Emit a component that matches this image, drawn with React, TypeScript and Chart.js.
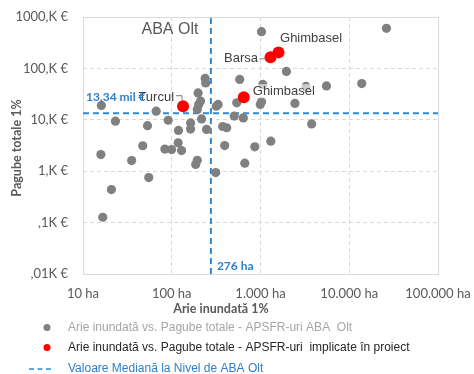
import React, { useEffect, useRef } from 'react';
import { Chart, registerables } from 'chart.js';

Chart.register(...registerables);

// ---- Data (area in ha, damage in thousand €) ----
const grayArea = [16.1, 23.2, 53.3, 66.8, 91.2, 119, 163, 163, 194, 211, 201, 198, 217, 238, 241, 247, 333, 318, 375, 416, 583, 540, 506, 640, 1026, 26240, 1959, 1062, 3250, 5540, 13840, 1026, 994, 2445, 3770, 863, 1307, 665, 395, 313, 186, 194, 129, 118, 99.6, 83.6, 55.1, 47.1, 35.3, 15.9, 20.9, 16.7];
const grayDamage = [19.0, 9.4, 7.7, 14.7, 9.8, 6.2, 8.7, 6.6, 15.9, 23.1, 19.9, 33.3, 10.4, 63.8, 52.1, 6.5, 19.9, 18.4, 7.4, 7.0, 61.1, 21.4, 11.8, 10.9, 519, 603, 87.5, 48.7, 44.6, 45.6, 50.6, 22.4, 19.9, 20.8, 8.3, 2.98, 3.83, 1.43, 3.15, 0.94, 1.35, 1.63, 2.52, 3.58, 2.64, 2.70, 0.75, 3.13, 1.61, 2.11, 0.44, 0.127];

const redArea = [134, 648, 1297, 1596];
const redDamage = [18.4, 27.6, 164, 205];
const redNames = ['Turcul', 'Ghimbasel', 'Barsa', 'Ghimbasel'];

const medianArea = 276;
const medianDamage = 13.34;
const medianAreaLabel = '276 ha';
const medianDamageLabel = '13,34 mil €';

const xTicks = [10, 100, 1000, 10000, 100000];
const xTickLabels = ['10 ha', '100 ha', '1.000 ha', '10.000 ha', '100.000 ha'];
const yTicks = [0.01, 0.1, 1, 10, 100, 1000];
const yTickLabels = [',01K €', ',1K €', '1,K €', '10,K €', '100,K €', '1000,K €'];

const chartTitle = 'ABA Olt';
const xTitle = 'Arie inundată 1%';
const yTitle = 'Pagube totale 1%';
const legendLabels = [
  'Arie inundată vs. Pagube totale - APSFR-uri ABA  Olt',
  'Arie inundată vs. Pagube totale - APSFR-uri  implicate în proiect',
  'Valoare Mediană la Nivel de ABA Olt',
];

const GRAY = '#808080';
const RED = '#ff0000';
const BLUE_LINE = '#2b8ad8';
const BLUE_TEXT = '#2e7fc8';
const AXIS_TEXT = '#595959';

const overlay = {
  id: 'overlay',
  beforeDatasetsDraw(chart: any) {
    const { ctx, chartArea: a } = chart;
    ctx.save();
    ctx.strokeStyle = '#d9d9d9';
    ctx.lineWidth = 1;
    ctx.strokeRect(Math.round(a.left) + 0.5, Math.round(a.top) + 0.5, Math.round(a.right - a.left), Math.round(a.bottom - a.top));
    ctx.restore();
  },
  afterDatasetsDraw(chart: any) {
    const { ctx, chartArea: a } = chart;
    const xs = chart.scales.x;
    const ys = chart.scales.y;
    ctx.save();

    // chart title inside the plot
    ctx.font = '16px "Liberation Sans", Arial, sans-serif';
    ctx.fillStyle = AXIS_TEXT;
    ctx.textBaseline = 'middle';
    ctx.textAlign = 'left';
    ctx.fillText(chartTitle, 141.5, 29.5);

    // red point labels
    const meta = chart.getDatasetMeta(0);
    ctx.font = '13px "Liberation Sans", Arial, sans-serif';
    ctx.textBaseline = 'middle';
    meta.data.forEach((el: any, i: number) => {
      const px = el.x, py = el.y;
      const name = redNames[i];
      ctx.fillStyle = '#404040';
      ctx.strokeStyle = '#7f7f7f';
      ctx.lineWidth = 1;
      if (i === 0) {
        ctx.textAlign = 'right';
        ctx.fillText(name, px - 9, py - 9);
        ctx.beginPath();
        ctx.moveTo(px - 7, py - 10.5);
        ctx.lineTo(px - 1, py - 10.5);
        ctx.lineTo(px - 1, py - 6);
        ctx.stroke();
      } else if (i === 1) {
        ctx.textAlign = 'left';
        const w = ctx.measureText(name).width;
        ctx.fillStyle = 'rgba(255,255,255,0.6)';
        ctx.fillRect(px + 8, py - 13, w + 2, 14);
        ctx.fillStyle = '#404040';
        ctx.fillText(name, px + 9, py - 6);
      } else if (i === 2) {
        ctx.textAlign = 'right';
        ctx.fillText(name, px - 12.5, py + 1.5);
        ctx.beginPath();
        ctx.moveTo(px - 11, py + 1.5);
        ctx.lineTo(px - 5, py + 1.5);
        ctx.stroke();
      } else {
        ctx.textAlign = 'left';
        ctx.fillText(name, px + 1.5, py - 14);
      }
    });

    // median labels
    ctx.font = 'bold 12px Lato, sans-serif';
    ctx.fillStyle = BLUE_TEXT;
    ctx.textAlign = 'left';
    ctx.textBaseline = 'middle';
    ctx.fillText(medianDamageLabel, a.left + 3, ys.getPixelForValue(medianDamage) - 16);
    ctx.fillText(medianAreaLabel, xs.getPixelForValue(medianArea) + 6, a.bottom - 8);

    // axis titles
    ctx.font = 'bold 12.5px Lato, sans-serif';
    ctx.fillStyle = AXIS_TEXT;
    ctx.textAlign = 'center';
    ctx.fillText(xTitle, 221, 308.5);
    ctx.save();
    ctx.translate(17, 148);
    ctx.rotate(-Math.PI / 2);
    ctx.fillText(yTitle, 0, 0);
    ctx.restore();

    // legend
    ctx.font = '12px "Liberation Sans", Arial, sans-serif';
    ctx.textAlign = 'left';
    ctx.textBaseline = 'middle';
    const rows = [327.5, 347.5, 369];
    ctx.fillStyle = GRAY;
    ctx.beginPath(); ctx.arc(47, rows[0], 3.5, 0, Math.PI * 2); ctx.fill();
    ctx.fillStyle = '#a6a6a6';
    ctx.fillText(legendLabels[0], 68, rows[0]);
    ctx.fillStyle = RED;
    ctx.beginPath(); ctx.arc(47, rows[1], 3.5, 0, Math.PI * 2); ctx.fill();
    ctx.fillStyle = '#262626';
    ctx.fillText(legendLabels[1], 68, rows[1]);
    ctx.strokeStyle = BLUE_LINE;
    ctx.lineWidth = 1.5;
    ctx.setLineDash([5, 3.5]);
    ctx.beginPath(); ctx.moveTo(29, rows[2]); ctx.lineTo(51, rows[2]); ctx.stroke();
    ctx.setLineDash([]);
    ctx.fillStyle = BLUE_TEXT;
    ctx.fillText(legendLabels[2], 68, rows[2]);

    ctx.restore();
  },
};

export default function App() {
  const ref = useRef<HTMLCanvasElement>(null);
  useEffect(() => {
    if (!ref.current) return;
    const chart = new Chart(ref.current, {
      type: 'scatter',
      data: {
        datasets: [
          {
            label: legendLabels[1],
            data: redArea.map((x, i) => ({ x, y: redDamage[i] })),
            backgroundColor: RED,
            borderColor: RED,
            pointRadius: 6,
            pointBorderWidth: 0,
          },
          {
            label: legendLabels[0],
            data: grayArea.map((x, i) => ({ x, y: grayDamage[i] })),
            backgroundColor: GRAY,
            borderColor: GRAY,
            pointRadius: 4.6,
            pointBorderWidth: 0,
          },
          {
            label: legendLabels[2],
            data: [{ x: medianArea, y: yTicks[0] }, { x: medianArea, y: yTicks[yTicks.length - 1] }],
            showLine: true,
            borderColor: BLUE_LINE,
            borderWidth: 2,
            borderDash: [6, 4],
            pointRadius: 0,
          },
          {
            label: legendLabels[2],
            data: [{ x: xTicks[0], y: medianDamage }, { x: xTicks[xTicks.length - 1], y: medianDamage }],
            showLine: true,
            borderColor: BLUE_LINE,
            borderWidth: 2,
            borderDash: [6, 4],
            pointRadius: 0,
          },
        ],
      },
      options: {
        animation: false,
        responsive: false,
        layout: { padding: { top: 17, right: 36, bottom: 70, left: 0 } },
        plugins: { legend: { display: false }, tooltip: { enabled: false }, title: { display: false } },
        scales: {
          x: {
            type: 'logarithmic',
            min: xTicks[0],
            max: xTicks[xTicks.length - 1],
            afterBuildTicks: (s: any) => { s.ticks = xTicks.map((v) => ({ value: v })); },
            afterFit: (s: any) => { s.height = 30; s.paddingLeft = 0; s.paddingRight = 0; },
            ticks: {
              color: AXIS_TEXT,
              font: { family: 'Lato', size: 13 },
              padding: 12,
              maxRotation: 0,
              autoSkip: false,
              callback: (v: any) => { const i = xTicks.indexOf(Number(v)); return i >= 0 ? xTickLabels[i] : ''; },
            },
            grid: { color: '#d9d9d9', lineWidth: 1, drawTicks: false },
            border: { display: false, dash: [4, 3] },
          },
          y: {
            type: 'logarithmic',
            min: yTicks[0],
            max: yTicks[yTicks.length - 1],
            afterBuildTicks: (s: any) => { s.ticks = yTicks.map((v) => ({ value: v })); },
            afterFit: (s: any) => { s.width = 83; s.paddingTop = 0; s.paddingBottom = 0; },
            ticks: {
              color: AXIS_TEXT,
              font: { family: 'Lato', size: 13 },
              padding: 15,
              autoSkip: false,
              callback: (v: any) => {
                const i = yTicks.findIndex((t) => Math.abs(t - Number(v)) / t < 1e-6);
                return i >= 0 ? yTickLabels[i] : '';
              },
            },
            grid: { color: '#d9d9d9', lineWidth: 1, drawTicks: false },
            border: { display: false, dash: [4, 3] },
          },
        },
      },
      plugins: [overlay],
    } as any);
    return () => chart.destroy();
  }, []);
  return (
    <div style={{ position: 'absolute', left: 0, top: 0, width: 474, height: 374, background: '#fff' }}>
      <canvas ref={ref} width={474} height={374} style={{ display: 'block' }} />
    </div>
  );
}
